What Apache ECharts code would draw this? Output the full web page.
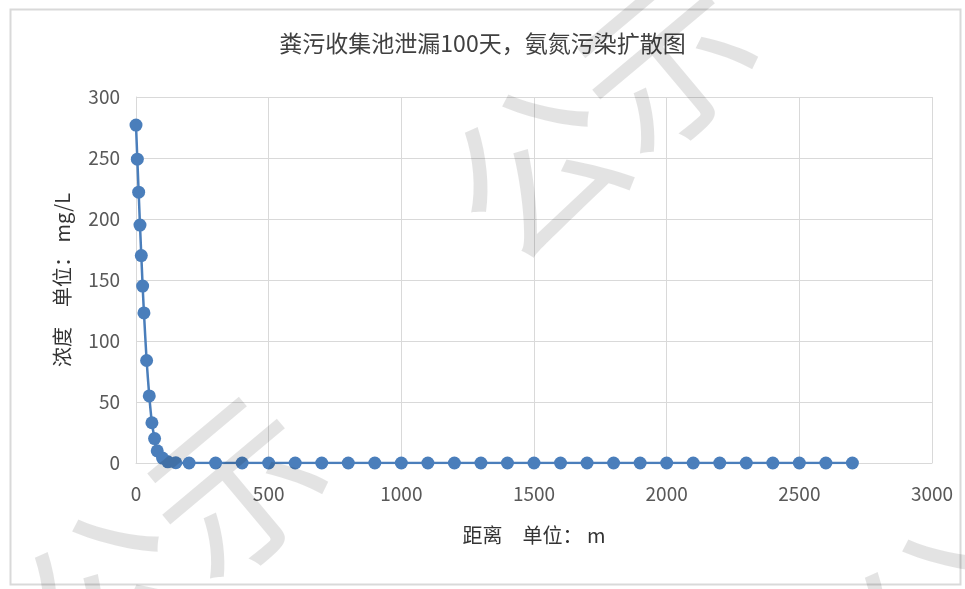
<!DOCTYPE html>
<html>
<head>
<meta charset="utf-8">
<script src="https://cdn.jsdelivr.net/npm/echarts@6/dist/echarts.min.js"></script>
<style>
html, body { margin: 0; padding: 0; background: #fff; }
#chart { width: 965px; height: 589px; }
</style>
</head>
<body>
<div id="chart"></div>
<script>
// 距离 (m)
const distances = [0, 5, 10, 15, 20, 25, 30, 40, 50, 60, 70, 80, 100, 120, 150, 200,
  300, 400, 500, 600, 700, 800, 900, 1000, 1100, 1200, 1300, 1400, 1500, 1600, 1700,
  1800, 1900, 2000, 2100, 2200, 2300, 2400, 2500, 2600, 2700]
// 氨氮浓度 (mg/L)
const concentrations = [277, 249, 222, 195, 170, 145, 123, 84, 55, 33, 20, 10, 4, 1, 0.2, 0,
  0, 0, 0, 0, 0, 0, 0, 0, 0, 0, 0, 0, 0, 0, 0,
  0, 0, 0, 0, 0, 0, 0, 0, 0, 0]
const xTicks = [0, 500, 1000, 1500, 2000, 2500, 3000]
const yTicks = [0, 50, 100, 150, 200, 250, 300]

const titleText = '粪污收集池泄漏100天，氨氮污染扩散图'
const xName = '距离　单位： m'
const yName = '浓度　单位： mg/L'
const watermark = '公示'

const font = '"Noto Sans CJK SC", "Noto Sans", sans-serif'
const textColor = '#595959'
const gridColor = '#d9d9d9'

const chart = echarts.init(document.getElementById('chart'))

const points = distances.map((d, i) => [d, concentrations[i]])

function markText (x, y) {
  return {
    type: 'text',
    x: x, y: y,
    rotation: Math.PI / 4.5,
    style: {
      text: watermark,
      fontFamily: font,
      fontSize: 170,
      fill: 'rgba(0,0,0,0.11)',
      align: 'center',
      verticalAlign: 'middle'
    },
    z: 100,
    silent: true
  }
}

chart.setOption({
  backgroundColor: '#fff',
  animation: false,
  title: {
    text: titleText,
    left: 'center',
    top: 27,
    textStyle: { fontFamily: font, fontSize: 23, fontWeight: 'normal', color: '#404040' }
  },
  grid: { left: 136, right: 33, top: 97, bottom: 126 },
  xAxis: {
    type: 'value',
    min: xTicks[0],
    max: xTicks[xTicks.length - 1],
    interval: 500,
    name: xName,
    nameLocation: 'middle',
    nameGap: 62,
    nameTextStyle: { fontFamily: font, fontSize: 20, color: '#333' },
    axisLine: { lineStyle: { color: gridColor, width: 1 } },
    axisTick: { show: false },
    axisLabel: {
      fontFamily: font, fontSize: 19, color: textColor, margin: 21,
      formatter: v => String(v)
    },
    splitLine: { show: true, lineStyle: { color: gridColor, width: 1 } }
  },
  yAxis: {
    type: 'value',
    min: yTicks[0],
    max: yTicks[yTicks.length - 1],
    interval: 50,
    name: yName,
    nameLocation: 'middle',
    nameGap: 64,
    nameTextStyle: { fontFamily: font, fontSize: 20, color: '#333' },
    axisLine: { show: true, lineStyle: { color: gridColor, width: 1 } },
    axisTick: { show: false },
    axisLabel: { fontFamily: font, fontSize: 19, color: textColor, margin: 16 },
    splitLine: { show: true, lineStyle: { color: gridColor, width: 1 } }
  },
  series: [{
    type: 'line',
    data: points,
    symbol: 'circle',
    symbolSize: 13,
    smooth: 0.2,
    itemStyle: { color: '#4a7ebb' },
    lineStyle: { color: '#4a7ebb', width: 2.5 },
    z: 3
  }],
  graphic: [
    {
      type: 'rect',
      left: 8, top: 7,
      shape: { width: 950, height: 575 },
      style: { fill: 'none', stroke: gridColor, lineWidth: 2 },
      silent: true
    },
    markText(600, 115),
    markText(170, 540),
    markText(1000, 560)
  ]
})
</script>
</body>
</html>
